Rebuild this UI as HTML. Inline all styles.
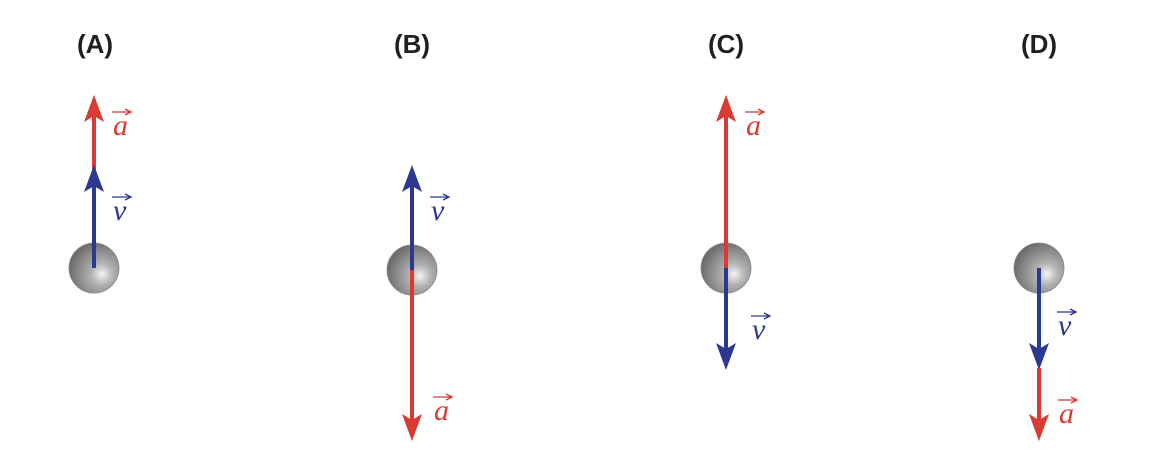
<!DOCTYPE html>
<html><head><meta charset="utf-8"><style>
html,body{margin:0;padding:0;background:#fff;}
svg{display:block;}
.t{font-family:"Liberation Sans",sans-serif;font-weight:bold;font-size:26px;fill:#231f20;}
.l{font-family:"Liberation Serif",serif;font-style:italic;font-size:30px;}
</style></head><body>
<svg width="1150" height="466" viewBox="0 0 1150 466" xmlns="http://www.w3.org/2000/svg">
<defs>
<radialGradient id="g" cx="0.66" cy="0.62" r="0.65">
<stop offset="0" stop-color="#f2f2f2"/><stop offset="0.35" stop-color="#b0b0b0"/><stop offset="1" stop-color="#6e6e6e"/>
</radialGradient>
</defs>
<g class="t">
<text x="95" y="53" text-anchor="middle">(A)</text>
<text x="412" y="53" text-anchor="middle">(B)</text>
<text x="726" y="53" text-anchor="middle">(C)</text>
<text x="1039" y="53" text-anchor="middle">(D)</text>
</g>
<circle cx="94" cy="268" r="25" fill="url(#g)" stroke="#888" stroke-width="0.8"/>
<circle cx="412" cy="270" r="25" fill="url(#g)" stroke="#888" stroke-width="0.8"/>
<circle cx="726" cy="268" r="25" fill="url(#g)" stroke="#888" stroke-width="0.8"/>
<circle cx="1039" cy="268" r="25" fill="url(#g)" stroke="#888" stroke-width="0.8"/>
<!-- A -->
<line x1="94" y1="180" x2="94" y2="115" stroke="#d93a33" stroke-width="4"/>
<path d="M94,95 L104,122 L94,116 L84,122 Z" fill="#d93a33"/>
<line x1="94" y1="268" x2="94" y2="185" stroke="#2b3990" stroke-width="4"/>
<path d="M94,165 L104,192 L94,186 L84,192 Z" fill="#2b3990"/>
<!-- B -->
<line x1="412" y1="270" x2="412" y2="185" stroke="#2b3990" stroke-width="4"/>
<path d="M412,165 L422,192 L412,186 L402,192 Z" fill="#2b3990"/>
<line x1="412" y1="270" x2="412" y2="420" stroke="#d93a33" stroke-width="4"/>
<path d="M412,441 L422,414 L412,420 L402,414 Z" fill="#d93a33"/>
<!-- C -->
<line x1="726" y1="268" x2="726" y2="115" stroke="#d93a33" stroke-width="4"/>
<path d="M726,95 L736,122 L726,116 L716,122 Z" fill="#d93a33"/>
<line x1="726" y1="268" x2="726" y2="350" stroke="#2b3990" stroke-width="4"/>
<path d="M726,370 L736,343 L726,349 L716,343 Z" fill="#2b3990"/>
<!-- D -->
<line x1="1039" y1="268" x2="1039" y2="350" stroke="#2b3990" stroke-width="4"/>
<path d="M1039,370 L1049,343 L1039,349 L1029,343 Z" fill="#2b3990"/>
<line x1="1039" y1="368" x2="1039" y2="420" stroke="#d93a33" stroke-width="4"/>
<path d="M1039,441 L1049,414 L1039,420 L1029,414 Z" fill="#d93a33"/>
<g fill="#d93a33" stroke="#d93a33">
<text class="l" x="113" y="135" stroke="none">a</text>
<path d="M112,112 H130 M125,109 L131,112 L125,115" fill="none" stroke-width="1.3"/>
<text class="l" x="434" y="420" stroke="none">a</text>
<path d="M433,397 H451 M446,394 L452,397 L446,400" fill="none" stroke-width="1.3"/>
<text class="l" x="746" y="135" stroke="none">a</text>
<path d="M745,112 H763 M758,109 L764,112 L758,115" fill="none" stroke-width="1.3"/>
<text class="l" x="1059" y="423" stroke="none">a</text>
<path d="M1058,400 H1076 M1071,397 L1077,400 L1071,403" fill="none" stroke-width="1.3"/>
</g>
<g fill="#2b3990" stroke="#2b3990">
<text class="l" x="113" y="220" stroke="none" font-size="28">v</text>
<path d="M112,197 H130 M125,194 L131,197 L125,200" fill="none" stroke-width="1.3"/>
<text class="l" x="431" y="220" stroke="none" font-size="28">v</text>
<path d="M430,197 H448 M443,194 L449,197 L443,200" fill="none" stroke-width="1.3"/>
<text class="l" x="752" y="339" stroke="none" font-size="28">v</text>
<path d="M751,316 H769 M764,313 L770,316 L764,319" fill="none" stroke-width="1.3"/>
<text class="l" x="1058" y="335" stroke="none" font-size="28">v</text>
<path d="M1057,312 H1075 M1070,309 L1076,312 L1070,315" fill="none" stroke-width="1.3"/>
</g>
</svg>
</body></html>
